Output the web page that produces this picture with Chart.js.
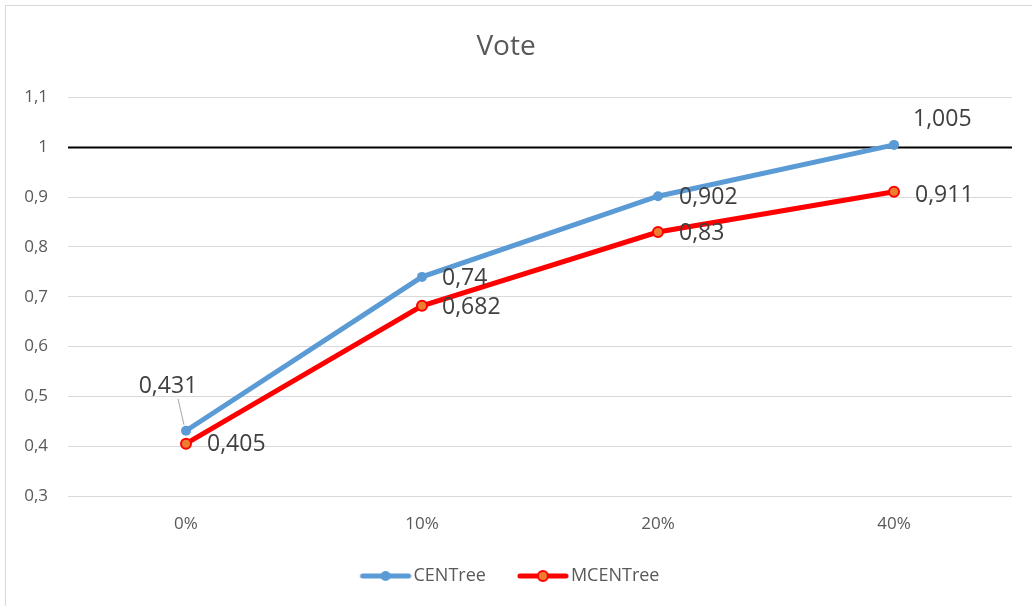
<!DOCTYPE html>
<html>
<head>
<meta charset="utf-8">
<title>Vote</title>
<script src="https://cdn.jsdelivr.net/npm/chart.js@4.4.1/dist/chart.umd.min.js"></script>
<style>
  html, body { margin: 0; padding: 0; background: #fff; }
  #wrap { position: relative; width: 1032px; height: 606px; overflow: hidden; }
  #frame { position: absolute; left: 5px; top: 5px; width: 1040px; height: 620px; border: 1px solid #d9d9d9; box-sizing: border-box; }
  canvas { position: absolute; left: 0; top: 0; }
</style>
</head>
<body>
<div id="wrap">
  <div id="frame"></div>
  <canvas id="myChart" width="1032" height="606"></canvas>
</div>
<script>
var categories = ["0%", "10%", "20%", "40%"];
var centree = [0.431, 0.74, 0.902, 1.005];
var mcentree = [0.405, 0.682, 0.83, 0.911];
var refValue = 1;
var yTicks = [0.3, 0.4, 0.5, 0.6, 0.7, 0.8, 0.9, 1, 1.1];

// label offsets from each point (dx, dy, align)
var labelPos = [
  [[-18, -44, "center"], [20, 2, "left"], [21, 1, "left"], [19, -25, "left"]],
  [[21, 1, "left"], [20, 2, "left"], [21, 1, "left"], [21, 4, "left"]]
];

function fmt(v) {
  return Number(v.toFixed(3)).toString().replace(".", ",");
}

// legend symbol: line with a dot, shifted right so the text sits close
function legendIcon(lineColor, dotFill, dotBorder) {
  var c = document.createElement("canvas");
  c.width = 66;
  c.height = 14;
  var ctx = c.getContext("2d");
  ctx.strokeStyle = lineColor;
  ctx.lineWidth = 5;
  ctx.lineCap = "round";
  ctx.beginPath();
  ctx.moveTo(17, 7);
  ctx.lineTo(63, 7);
  ctx.stroke();
  ctx.beginPath();
  ctx.arc(40, 7, 5, 0, Math.PI * 2);
  ctx.fillStyle = dotFill;
  ctx.fill();
  if (dotBorder) {
    ctx.lineWidth = 2;
    ctx.strokeStyle = dotBorder;
    ctx.stroke();
  }
  return c;
}
var icons = [legendIcon("#5B9BD5", "#5B9BD5"), legendIcon("#FF0000", "#ED7D31", "#FF0000")];

var refLine = {
  id: "refLine",
  beforeDatasetsDraw: function (chart) {
    var ctx = chart.ctx;
    var y = chart.scales.y.getPixelForValue(refValue);
    ctx.save();
    ctx.strokeStyle = "#000";
    ctx.lineWidth = 2;
    ctx.beginPath();
    ctx.moveTo(chart.chartArea.left, y);
    ctx.lineTo(chart.chartArea.right, y);
    ctx.stroke();
    ctx.restore();
  }
};

var pointLabels = {
  id: "pointLabels",
  afterDatasetsDraw: function (chart) {
    var ctx = chart.ctx;
    ctx.save();
    ctx.font = "23px 'Open Sans'";
    ctx.fillStyle = "#404040";
    ctx.textBaseline = "middle";
    chart.data.datasets.forEach(function (ds, d) {
      var meta = chart.getDatasetMeta(d);
      meta.data.forEach(function (pt, i) {
        var p = labelPos[d][i];
        ctx.textAlign = p[2];
        ctx.fillText(fmt(ds.data[i]), pt.x + p[0], pt.y + p[1]);
        if (p[2] == "center") {
          ctx.strokeStyle = "#a6a6a6";
          ctx.lineWidth = 1;
          ctx.beginPath();
          ctx.moveTo(pt.x - 8, pt.y - 32);
          ctx.lineTo(pt.x - 2, pt.y - 6);
          ctx.stroke();
        }
      });
    });
    ctx.restore();
  }
};

new Chart("myChart", {
  type: "line",
  data: {
    labels: categories,
    datasets: [{
      label: "CENTree",
      data: centree,
      borderColor: "#5B9BD5",
      backgroundColor: "#5B9BD5",
      borderWidth: 5,
      pointRadius: 5,
      pointBorderWidth: 0,
      pointBackgroundColor: "#5B9BD5",
      tension: 0
    }, {
      label: "MCENTree",
      data: mcentree,
      borderColor: "#FF0000",
      backgroundColor: "#ED7D31",
      borderWidth: 5,
      pointRadius: 5,
      pointBorderWidth: 2,
      pointBorderColor: "#FF0000",
      pointBackgroundColor: "#ED7D31",
      tension: 0
    }]
  },
  options: {
    responsive: false,
    animation: false,
    layout: { padding: { left: 0, right: 20, top: 0, bottom: 11 } },
    scales: {
      x: {
        offset: true,
        grid: { display: false, drawTicks: false },
        border: { display: false },
        ticks: { color: "#595959", font: { family: "'Open Sans'", size: 17 }, padding: 18 },
        afterFit: function (scale) { scale.height = 47; }
      },
      y: {
        min: 0.3,
        max: 1.1,
        afterBuildTicks: function (scale) {
          scale.ticks = yTicks.map(function (v) { return { value: v }; });
        },
        grid: { color: "#d9d9d9", lineWidth: 1, drawTicks: false },
        border: { display: false },
        ticks: {
          color: "#595959",
          font: { family: "'Open Sans'", size: 17 },
          padding: 20,
          callback: function (v) { return fmt(v); }
        },
        afterFit: function (scale) { scale.width = 68; }
      }
    },
    plugins: {
      title: {
        display: true,
        text: "Vote",
        color: "#595959",
        font: { family: "'Open Sans'", size: 28, weight: "normal" },
        padding: { top: 30, bottom: 34 }
      },
      legend: {
        position: "bottom",
        labels: {
          color: "#595959",
          font: { family: "'Open Sans'", size: 18 },
          usePointStyle: true,
          pointStyleWidth: 52,
          padding: 24,
          generateLabels: function (chart) {
            return chart.data.datasets.map(function (ds, i) {
              return {
                text: ds.label,
                pointStyle: icons[i],
                fillStyle: ds.borderColor,
                strokeStyle: ds.borderColor,
                lineWidth: 0,
                fontColor: "#595959",
                datasetIndex: i
              };
            });
          }
        }
      },
      tooltip: { enabled: false }
    }
  },
  plugins: [refLine, pointLabels]
});
</script>
</body>
</html>
